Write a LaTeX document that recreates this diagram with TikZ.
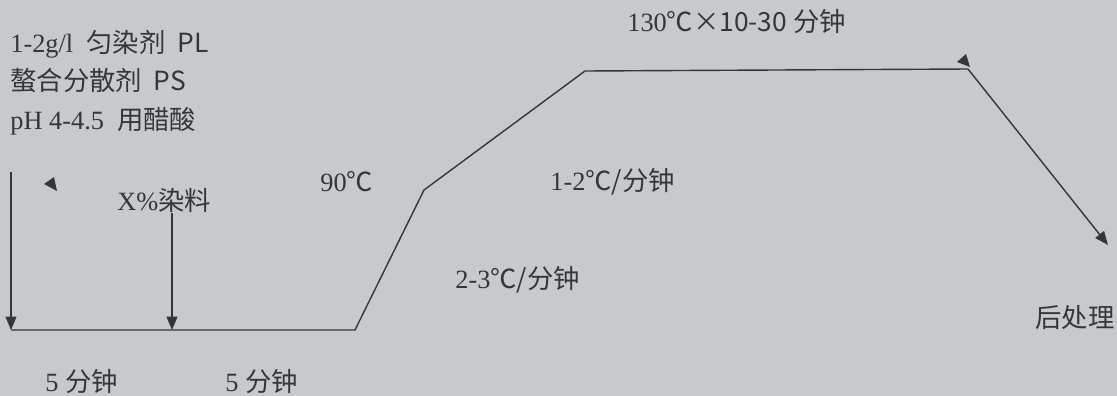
\documentclass[tikz,border=0pt]{standalone}
\usepackage{fontspec}
\setmainfont{Liberation Serif}
\newfontfamily\cjk{Noto Sans CJK SC}
\usetikzlibrary{arrows.meta,positioning}
\definecolor{bg}{RGB}{198,202,202}
\definecolor{ink}{RGB}{52,55,56}
\tikzset{
  lbl/.style={anchor=base west, inner sep=0pt, text=ink, font=\fontsize{15}{17}\selectfont},
  curve/.style={draw=ink, line width=0.8pt},
  tip/.style={-{Triangle[length=0.27cm,width=0.22cm]}},
}

\begin{document}
\begin{tikzpicture}[x=0.02cm,y=-0.02cm]
  \fill[bg] (0,0) rectangle (1117,396);
  \useasboundingbox (0,0) rectangle (1117,396);

  % recipe
  \node[lbl] (pl) at (10,52) {1-2g/l\ \ \cjk{匀染剂}\ \ PL};
  \node[lbl, below=0.78cm of pl.base west, anchor=base west] (ps) {\cjk{螯合分散剂}\ \ PS};
  \node[lbl, below=0.78cm of ps.base west, anchor=base west] (ph) {pH 4-4.5\ \ \cjk{用醋酸}};

  % temperature curve
  \coordinate (s0) at (11,330);
  \coordinate (s1) at (172,330);
  \coordinate (s2) at (355,330);
  \coordinate (s3) at (424,190);
  \coordinate (s4) at (585,71);
  \coordinate (s5) at (968,69);
  \coordinate (s6) at (1108,245);
  \draw[curve] (s0) -- (s1) -- (s2) -- (s3) -- (s4) -- (s5);
  \draw[curve, tip] (s5) -- (s6);

  % dosing
  \coordinate (a0) at (11,172);
  \draw[curve, tip] (a0) -- (s0);
  \node[lbl] (dye) at (117,210) {X\%\cjk{染料}};
  \coordinate (d0) at (172,213);
  \draw[curve, tip] (d0) -- (s1);

  % loose tips
  \fill[ink] (44,184) -- (54,177) -- (57,191) -- cycle;
  \fill[ink] (957,62) -- (966,54) -- (970,67) -- cycle;

  % labels
  \node[lbl] (t90) at (320,191) {90\cjk{℃}};
  \node[lbl] (r1) at (550,190) {1-2\cjk{℃/分钟}};
  \node[lbl] (r2) at (455,288) {2-3\cjk{℃/分钟}};
  \node[lbl] (hold) at (627,31) {130\cjk{℃×}10-30 \cjk{分钟}};
  \node[lbl] (post) at (1035,327) {\cjk{后处理}};
  \node[lbl] (m1) at (45,391) {5 \cjk{分钟}};
  \node[lbl, right=3.6cm of m1.base west, anchor=base west] (m2) {5 \cjk{分钟}};
\end{tikzpicture}
\end{document}
